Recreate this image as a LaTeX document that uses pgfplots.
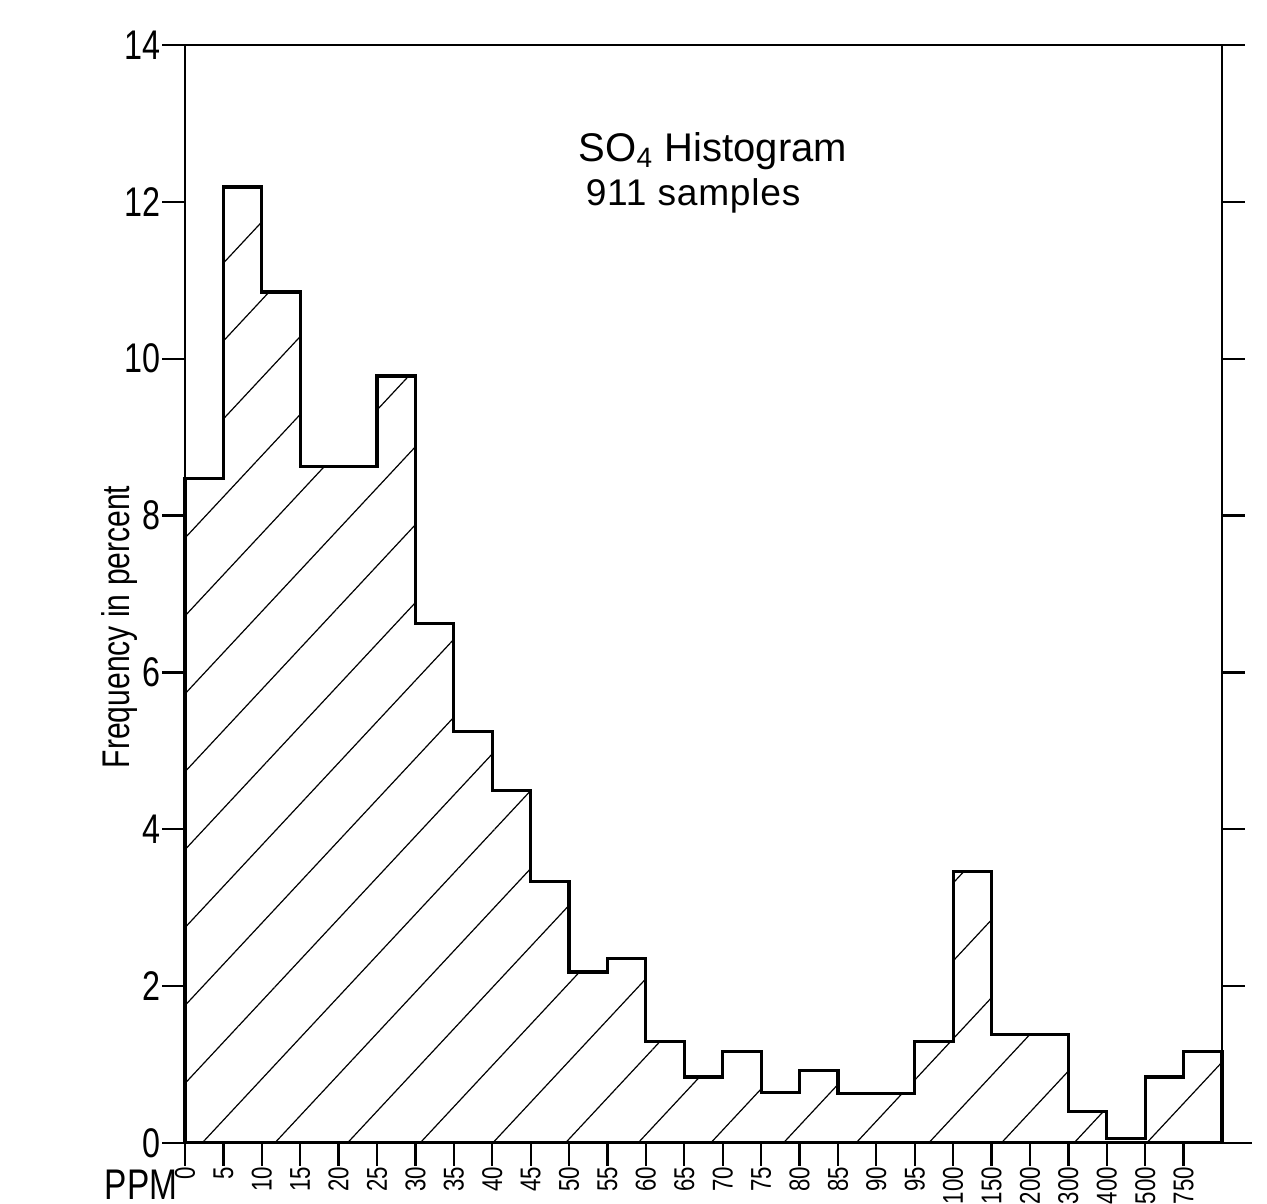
\documentclass[border=0pt]{standalone}
\usepackage{fontspec}
\setmainfont{Liberation Sans}
\newfontfamily\cond[FakeStretch=0.78]{Liberation Sans}
\usepackage{pgfplots}
\usepackage{pgfplotstable}
\pgfplotsset{compat=1.18}
\usetikzlibrary{patterns.meta}

\pgfplotstableread{
x y
0 8.47
1 12.19
2 10.85
3 8.62
4 8.62
5 9.78
6 6.62
7 5.25
8 4.49
9 3.33
10 2.18
11 2.35
12 1.29
13 0.84
14 1.16
15 0.64
16 0.92
17 0.63
18 0.63
19 1.29
20 3.46
21 1.38
22 1.38
23 0.40
24 0.06
25 0.84
26 1.17
27 1.17
}\sodata

\begin{document}
\begin{tikzpicture}
\useasboundingbox (-64.75pt,-21.35pt) rectangle (378.75pt,400.05pt);
\begin{axis}[
  at={(0,0)}, anchor=south west,
  width=363pt, height=384.3pt, scale only axis,
  clip=false,
  xmin=0, xmax=27, ymin=0, ymax=14,
  xtick={0,1,...,26},
  xticklabels={0,5,10,15,20,25,30,35,40,45,50,55,60,65,70,75,80,85,90,95,100,150,200,300,400,500,750},
  ytick={0,2,...,14},
  xtick pos=left,
  ytick pos=both,
  yticklabel pos=left,
  tick align=outside,
  major tick length=8pt,
  axis line style={line width=0.9pt},
  every tick/.style={line width=0.8pt, black},
  xticklabel style={rotate=90, anchor=east, font=\cond\fontsize{10}{10}\selectfont, inner sep=0.3pt},
  yticklabel style={font=\cond\fontsize{14.5}{14.5}\selectfont, inner sep=0.5pt},
  /pgf/number format/assume math mode=true,
]
\addplot[const plot, draw=black, line width=1.1pt,
  pattern={Lines[angle=47,distance=18.6pt,line width=0.42pt]}]
  table[x=x,y=y] {\sodata} \closedcycle;

\draw[line width=0.9pt] (rel axis cs:1,0) -- ([xshift=10.5pt]rel axis cs:1,0);

\node[anchor=base, font=\fontsize{14}{14}\selectfont] at (rel axis cs:0.509,0.894) {SO\textsubscript{4} Histogram};
\node[anchor=base, font=\fontsize{13}{13}\selectfont\addfontfeature{LetterSpace=2}] at (rel axis cs:0.49,0.8534) {911 samples};
\node[rotate=90, font=\cond\fontsize{13.5}{13.5}\selectfont] at ([xshift=-22.75pt]rel axis cs:0,0.47) {Frequency in percent};
\node[anchor=east, inner sep=0pt, font=\cond\fontsize{15}{15}\selectfont] at ([xshift=-2.5pt,yshift=-14.5pt]rel axis cs:0,0) {PPM};
\end{axis}
\end{tikzpicture}
\end{document}
